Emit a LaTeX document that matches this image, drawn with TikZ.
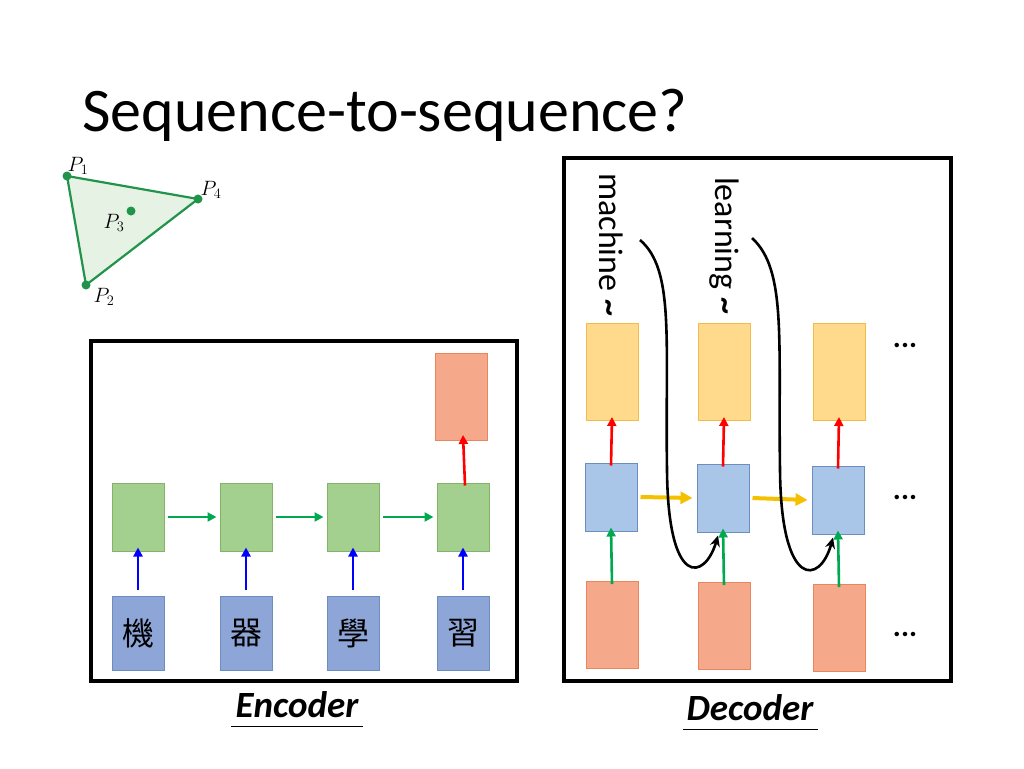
\documentclass[tikz,border=0pt]{standalone}
\usepackage{fontspec}
\setmainfont{Carlito}
\newfontfamily\cjk{Noto Sans CJK TC}
\usetikzlibrary{arrows.meta}
\definecolor{gfill}{HTML}{A3D08F}\definecolor{gdraw}{HTML}{82B366}
\definecolor{bfill}{HTML}{8EA5D8}\definecolor{bdraw}{HTML}{6C8EBF}
\definecolor{lbfill}{HTML}{A9C5E8}
\definecolor{ofill}{HTML}{FFD98C}\definecolor{odraw}{HTML}{F0BC4A}
\definecolor{rfill}{HTML}{F5A88A}\definecolor{rdraw}{HTML}{E8875E}
\definecolor{tgreen}{HTML}{22934A}\definecolor{tfill}{HTML}{E6F2E4}
\definecolor{ayel}{HTML}{F5C000}\definecolor{agreen}{HTML}{00A850}
\begin{document}
\begin{tikzpicture}[x=1pt,y=-1pt,
 bx/.style={draw,line width=1pt,inner sep=0pt},
 frame/.style={draw,line width=3.5pt},
 arr/.style={line width=2.6pt,-{Triangle[length=9pt,width=9pt]}},
 dot/.style={circle,fill=tgreen,inner sep=0pt,minimum size=9pt},
 plab/.style={font=\fontsize{20}{24}\selectfont},
 lab/.style={font=\bfseries\itshape\fontsize{37}{40}\selectfont}]
\useasboundingbox (0,0) rectangle (1024,768);
\node[anchor=base west,inner sep=0pt,font=\fontsize{62}{70}\selectfont] (title) at (82,131) {Sequence-to-sequence?};
% triangle
\coordinate (p1) at (67,176); \coordinate (p4) at (198,199); \coordinate (p2) at (86,285);
\draw[tgreen,line width=2.2pt,fill=tfill] (p1)--(p4)--(p2)--cycle;
\node[dot] (d1) at (p1){}; \node[dot] (d4) at (p4){}; \node[dot] (d2) at (p2){};
\node[dot] (d3) at (131,211){};
\node[plab] (l1) at (78,166){$P_1$};
\node[plab] (l4) at (211,190){$P_4$};
\node[plab] (l2) at (104,297){$P_2$};
\node[plab] (l3) at (114,223){$P_3$};
% encoder
\draw[frame] (91,341) rectangle (517,681);
\foreach \i/\x/\c in {1/138/機,2/246/器,3/353/學,4/463/習}{
 \node[bx,fill=gfill,draw=gdraw,minimum width=52pt,minimum height=68pt] (g\i) at (\x,517){};
 \node[bx,fill=bfill,draw=bdraw,minimum width=52pt,minimum height=74pt,font=\cjk\fontsize{32}{36}\selectfont] (i\i) at (\x,633){\c};
 \draw[arr,blue] (i\i.north) ++(0,-6) -- ([yshift=4pt]g\i.south);
}
\foreach \a/\b in {1/2,2/3,3/4}{\draw[arr,agreen] ([xshift=3pt]g\a.east) -- ([xshift=-3pt]g\b.west);}
\node[bx,fill=rfill,draw=rdraw,minimum width=52pt,minimum height=87pt] (eo) at (461,397){};
\draw[arr,red] ([xshift=2pt,yshift=-3pt]g4.north) -- ([xshift=2pt,yshift=6pt]eo.south);
\node[lab] (enc) at (297,705){Encoder};
\draw[line width=0.8pt] (231,726) -- (363,726);
% decoder
\draw[frame] (564,158) rectangle (951,681);
\foreach \i/\x/\yb in {1/611/497,2/723/498,3/838/500}{
 \node[bx,fill=ofill,draw=odraw,minimum width=52pt,minimum height=97pt] (o\i) at (\x+1,372){};
 \node[bx,fill=lbfill,draw=bdraw,minimum width=52pt,minimum height=68pt] (h\i) at (\x,\yb){};
 \node[bx,fill=rfill,draw=rdraw,minimum width=52pt,minimum height=87pt] (x\i) at (\x+1,\yb+128){};
 \draw[arr,red] ([yshift=-3pt]h\i.north) -- ([yshift=4pt]o\i.south);
 \draw[arr,agreen] ([yshift=-3pt]x\i.north) -- ([yshift=4pt]h\i.south);
}
\draw[arr,ayel,line width=4pt,-{Triangle[length=12pt,width=12pt]}] ([xshift=3pt]h1.east) -- ([xshift=-4pt]h2.west);
\draw[arr,ayel,line width=4pt,-{Triangle[length=12pt,width=12pt]}] ([xshift=3pt]h2.east) -- ([xshift=-4pt]h3.west);
\node[rotate=-90,anchor=west,inner sep=0pt,font=\fontsize{34}{38}\selectfont] (w1) at (611,173){machine \textbf{\char"7E}};
\node[rotate=-90,anchor=west,inner sep=0pt,font=\fontsize{34}{38}\selectfont] (w2) at (724,177){learning \textbf{\char"7E}};
\coordinate (c1) at (640,240); \coordinate (c2) at (752,238);
\draw[line width=2.6pt,-{Stealth[length=11pt,width=10pt]}] (c1) .. controls (675,270) and (665,340) .. (667,470)
  .. controls (668,590) and (705,580) .. ([xshift=-5pt,yshift=-3pt]h2.south);
\draw[line width=2.6pt,-{Stealth[length=11pt,width=10pt]}] (c2) .. controls (787,270) and (778,340) .. (780,470)
  .. controls (781,590) and (820,585) .. ([xshift=-5pt,yshift=-3pt]h3.south);
\node[font=\bfseries\fontsize{30}{32}\selectfont] (e1) at (905,345){...};
\node[font=\bfseries\fontsize{30}{32}\selectfont] (e2) at (905,497){...};
\node[font=\bfseries\fontsize{30}{32}\selectfont] (e3) at (905,634){...};
\node[lab] (dec) at (750,708){Decoder};
\draw[line width=0.8pt] (683,729) -- (818,729);
\end{tikzpicture}
\end{document}
